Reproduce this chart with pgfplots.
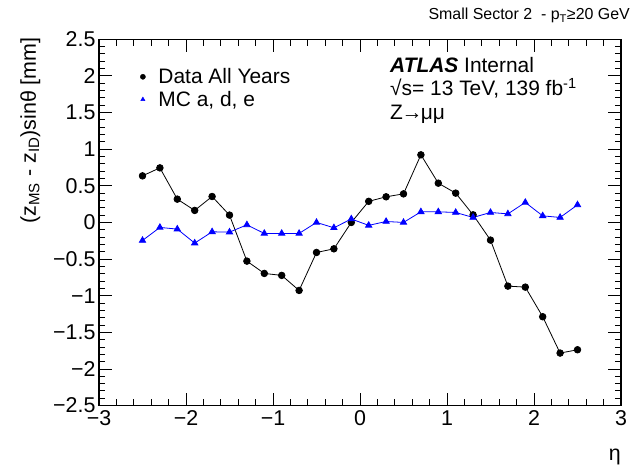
\documentclass[border=0pt]{standalone}
\usepackage{fontspec}
\setmainfont{Liberation Sans}
\usepackage{pgfplots}
\pgfplotsset{compat=1.18}
\begin{document}
\begin{tikzpicture}
\begin{axis}[
  width=522bp, height=366.3bp, scale only axis,
  xmin=-3, xmax=3, ymin=-2.5, ymax=2.5,
  clip=false,
  xtick={-3,-2,-1,0,1,2,3},
  xticklabels={−3,−2,−1,0,1,2,3},
  ytick={-2.5,-2,-1.5,-1,-0.5,0,0.5,1,1.5,2,2.5},
  yticklabels={−2.5,−2,−1.5,−1,−0.5,0,0.5,1,1.5,2,2.5},
  minor x tick num=4, minor y tick num=4,
  tick align=inside,
  major tick length=13bp, minor tick length=6.5bp,
  axis line style={line width=1.2bp},
  every tick/.style={black, line width=0.9bp},
  tick label style={font=\fontsize{21.5}{24}\selectfont},
  xticklabel style={yshift=-1.5bp},
  yticklabel style={xshift=0bp},
  legend style={draw=none, fill=none, inner sep=0pt, at={(rel axis cs:0.0787,0.9208)}, anchor=north west,
     font=\fontsize{21}{24}\selectfont, column sep=13bp,
     nodes={inner sep=0pt, text height=15bp, text depth=7.6bp}},
  legend cell align=left,
  legend image code/.code={\draw[#1] plot coordinates {(0bp,3bp)};},
]
\addplot[black, line width=0.8bp, mark=*, mark size=3.3bp, forget plot] coordinates {
(-2.5,0.636)(-2.3,0.745)(-2.1,0.318)(-1.9,0.164)(-1.7,0.354)(-1.5,0.100)(-1.3,-0.528)(-1.1,-0.696)(-0.9,-0.723)(-0.7,-0.928)(-0.5,-0.410)(-0.3,-0.360)(-0.1,0.000)(0.1,0.288)(0.3,0.350)(0.5,0.390)(0.7,0.923)(0.9,0.536)(1.1,0.400)(1.3,0.104)(1.5,-0.241)(1.7,-0.869)(1.9,-0.883)(2.1,-1.287)(2.3,-1.783)(2.5,-1.738)
};
\addplot[blue, line width=0.8bp, mark=triangle*, mark size=3.6bp, forget plot] coordinates {
(-2.5,-0.246)(-2.3,-0.068)(-2.1,-0.091)(-1.9,-0.282)(-1.7,-0.128)(-1.5,-0.132)(-1.3,-0.033)(-1.1,-0.150)(-0.9,-0.150)(-0.7,-0.150)(-0.5,0.000)(-0.3,-0.073)(-0.1,0.047)(0.1,-0.040)(0.3,0.013)(0.5,0.000)(0.7,0.145)(0.9,0.145)(1.1,0.136)(1.3,0.068)(1.5,0.136)(1.7,0.117)(1.9,0.273)(2.1,0.090)(2.3,0.068)(2.5,0.240)
};
\addlegendimage{only marks, mark=*, black, mark size=2.6bp}
\addlegendentry{Data All Years}
\addlegendimage{only marks, mark=triangle*, blue, mark size=2.4bp}
\addlegendentry{MC a, d, e}
\node[anchor=base west, inner sep=0pt, font=\fontsize{21}{24}\selectfont] at (rel axis cs:0.5575,0.9099) {{\bfseries\itshape ATLAS} Internal};
\node[anchor=base west, inner sep=0pt, font=\fontsize{21}{24}\selectfont] at (rel axis cs:0.5575,0.8454) {√s= 13 TeV, 139 fb\textsuperscript{-1}};
\node[anchor=base west, inner sep=0pt, font=\fontsize{21}{24}\selectfont] at (rel axis cs:0.5575,0.7818) {Z\kern-1.5bp→\kern-1.5bp μμ};
\node[anchor=base east, inner sep=0pt, font=\fontsize{16}{18}\selectfont] at ([xshift=9bp, yshift=19.3bp]rel axis cs:1,1) {Small Sector 2\ \ - p\textsubscript{T}≥20 GeV};
\node[anchor=base east, inner sep=0pt, rotate=90, font=\fontsize{21.5}{24}\selectfont] at ([xshift=-63bp, yshift=2bp]rel axis cs:0,1) {(z\textsubscript{MS} - z\textsubscript{ID})sinθ [mm]};
\node[anchor=base east, inner sep=0pt, font=\fontsize{21.5}{24}\selectfont] at ([xshift=0bp, yshift=-55bp]rel axis cs:1,0) {η};
\path ([xshift=-99bp, yshift=-65.6bp]rel axis cs:0,0) rectangle ([xshift=19bp, yshift=39.3bp]rel axis cs:1,1);
\end{axis}
\end{tikzpicture}
\end{document}
